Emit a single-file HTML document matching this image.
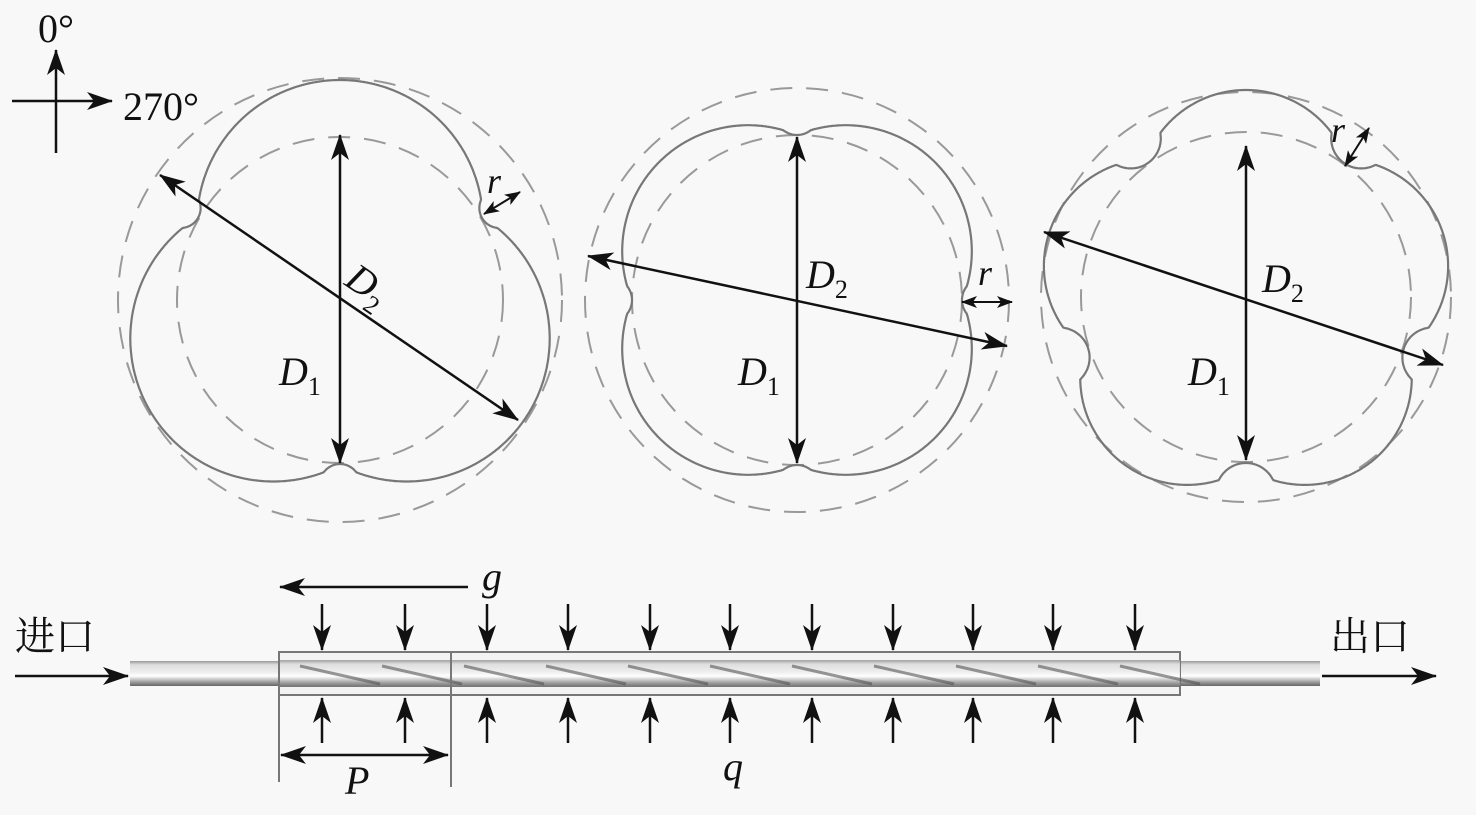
<!DOCTYPE html>
<html><head><meta charset="utf-8"><style>
html,body{margin:0;padding:0;background:#f8f8f8;}
svg{display:block}
text{font-family:"Liberation Serif","Noto Serif CJK SC",serif;fill:#111}
</style></head><body>
<svg id="s" width="1476" height="815" viewBox="0 0 1476 815" xmlns="http://www.w3.org/2000/svg">
<defs>
<marker id="a" viewBox="0 0 26 18" refX="25" refY="9" markerWidth="26" markerHeight="18" markerUnits="userSpaceOnUse" orient="auto-start-reverse"><path d="M0,0 L26,9 L0,18 L7,9 Z" fill="#111"/></marker>
<marker id="b" viewBox="0 0 16 12" refX="15" refY="6" markerWidth="16" markerHeight="12" markerUnits="userSpaceOnUse" orient="auto-start-reverse"><path d="M0,0 L16,6 L0,12 L4,6 Z" fill="#111"/></marker>
<linearGradient id="pipe" x1="0" y1="0" x2="0" y2="1">
<stop offset="0" stop-color="#999"/><stop offset="0.15" stop-color="#ddd"/><stop offset="0.45" stop-color="#eee"/><stop offset="0.6" stop-color="#fff"/><stop offset="0.85" stop-color="#999"/><stop offset="1" stop-color="#666"/></linearGradient>
</defs>
<g id="shapes" fill="none"></g>
<g stroke="#111" stroke-width="2.5" fill="none">
<line x1="56" y1="153" x2="56" y2="50" marker-end="url(#a)"/>
<line x1="12" y1="101" x2="112" y2="101" marker-end="url(#a)"/>
<line x1="340" y1="135" x2="340" y2="463" marker-start="url(#a)" marker-end="url(#a)"/>
<line x1="160" y1="175" x2="518" y2="420" marker-start="url(#a)" marker-end="url(#a)"/>
<line x1="484" y1="214" x2="520" y2="192" marker-start="url(#b)" marker-end="url(#b)" stroke-width="2"/>
<line x1="797" y1="137" x2="797" y2="463" marker-start="url(#a)" marker-end="url(#a)"/>
<line x1="588" y1="256" x2="1007" y2="346" marker-start="url(#a)" marker-end="url(#a)"/>
<line x1="962" y1="302" x2="1012" y2="302" marker-start="url(#b)" marker-end="url(#b)" stroke-width="2"/>
<line x1="1246" y1="146" x2="1246" y2="460" marker-start="url(#a)" marker-end="url(#a)"/>
<line x1="1044" y1="232" x2="1443" y2="365" marker-start="url(#a)" marker-end="url(#a)"/>
<line x1="1345" y1="166" x2="1369" y2="128" marker-start="url(#b)" marker-end="url(#b)" stroke-width="2"/>
</g>
<text x="38" y="42" font-size="40">0°</text>
<text x="123" y="120" font-size="40">270°</text>
<text x="487" y="193" font-size="36" font-style="italic">r</text>
<text x="343" y="284" font-size="40" font-style="italic" transform="rotate(34 343 284)">D<tspan font-size="26" dy="10" font-style="normal">2</tspan></text>
<text x="279" y="385" font-size="40" font-style="italic">D<tspan font-size="26" dy="10" font-style="normal">1</tspan></text>
<text x="978" y="285" font-size="36" font-style="italic">r</text>
<text x="806" y="288" font-size="40" font-style="italic">D<tspan font-size="26" dy="10" font-style="normal">2</tspan></text>
<text x="738" y="385" font-size="40" font-style="italic">D<tspan font-size="26" dy="10" font-style="normal">1</tspan></text>
<text x="1331" y="142" font-size="36" font-style="italic">r</text>
<text x="1262" y="292" font-size="40" font-style="italic">D<tspan font-size="26" dy="10" font-style="normal">2</tspan></text>
<text x="1188" y="385" font-size="40" font-style="italic">D<tspan font-size="26" dy="10" font-style="normal">1</tspan></text>
<rect x="130" y="661" width="1190" height="25" fill="url(#pipe)"/>
<rect x="279" y="652" width="901" height="43" fill="#f0f0f0" fill-opacity="0.6" stroke="#777" stroke-width="2"/>
<rect x="280" y="660" width="900" height="27" fill="url(#pipe)" opacity="0.9"/>
<g id="hel" stroke="#555" stroke-width="3" opacity="0.6"></g>
<g stroke="#777" stroke-width="2">
<line x1="279" y1="652" x2="279" y2="782"/>
<line x1="451" y1="652" x2="451" y2="787"/>
</g>
<g id="arr" stroke="#111" stroke-width="2.5"></g>
<g stroke="#111" stroke-width="2.5">
<line x1="468" y1="587" x2="280" y2="587" marker-end="url(#a)"/>
<line x1="281" y1="755" x2="448" y2="755" marker-start="url(#a)" marker-end="url(#a)"/>
<line x1="15" y1="676" x2="128" y2="676" marker-end="url(#a)"/>
<line x1="1322" y1="676" x2="1436" y2="676" marker-end="url(#a)"/>
</g>
<text x="482" y="590" font-size="40" font-style="italic">g</text>
<text x="345" y="794" font-size="40" font-style="italic">P</text>
<text x="723" y="780" font-size="40" font-style="italic">q</text>
<text x="15" y="650" font-size="40">进口</text>
<text x="1330" y="650" font-size="40">出口</text>
</svg>
<script>
var NS="http://www.w3.org/2000/svg",g=document.getElementById('shapes');
function el(t,a,p){var e=document.createElementNS(NS,t);for(var k in a)e.setAttribute(k,a[k]);(p||g).appendChild(e);return e;}
function shape(cx,cy,n,ax0,d,R,nd,nr,Ro,Ri){
 el('circle',{cx:cx,cy:cy,r:Ro,stroke:'#999','stroke-width':2,'stroke-dasharray':'22 14',fill:'none'});
 el('circle',{cx:cx,cy:cy,r:Ri,stroke:'#999','stroke-width':2,'stroke-dasharray':'22 14',fill:'none'});
 var pts=[];
 for(var i=0;i<1440;i++){
  var th=i/1440*2*Math.PI,ux=Math.cos(th),uy=Math.sin(th),rho=0;
  for(var k=0;k<n;k++){var a=ax0+k*2*Math.PI/n,lx=d*Math.cos(a),ly=d*Math.sin(a);
   var b=ux*lx+uy*ly,c=lx*lx+ly*ly-R*R,disc=b*b-c; if(disc>=0){var t=b+Math.sqrt(disc); if(t>rho)rho=t;}}
  for(var k=0;k<n;k++){var a=ax0+Math.PI/n+k*2*Math.PI/n,lx=nd*Math.cos(a),ly=nd*Math.sin(a);
   var b=ux*lx+uy*ly,c=lx*lx+ly*ly-nr*nr,disc=b*b-c;
   if(b>0&&disc>=0){var t1=b-Math.sqrt(disc),t2=b+Math.sqrt(disc); if(t1<rho&&t2>rho)rho=t1;}}
  pts.push((cx+rho*ux).toFixed(1)+','+(cy+rho*uy).toFixed(1));}
 el('polygon',{points:pts.join(' '),stroke:'#777','stroke-width':2.2,fill:'none'});
}
shape(340,300,3,-Math.PI/2,77,143,184,20,222,163);
shape(797,300,4,Math.PI/4,69,126,187,22,212,165);
shape(1246,297,5,Math.PI/2-Math.PI/5,100,107,196,30,205,165);
var ar=document.getElementById('arr');
[322,405,487,568,650,730,812,893,973,1053,1135].forEach(function(x){
 el('line',{x1:x,y1:604,x2:x,y2:650,'marker-end':'url(#a)'},ar);
 el('line',{x1:x,y1:743,x2:x,y2:698,'marker-end':'url(#a)'},ar);});
var h=document.getElementById('hel');
for(var x=300;x<1170;x+=82){el('line',{x1:x,y1:666,x2:x+80,y2:684},h);}
</script>
</body></html>
